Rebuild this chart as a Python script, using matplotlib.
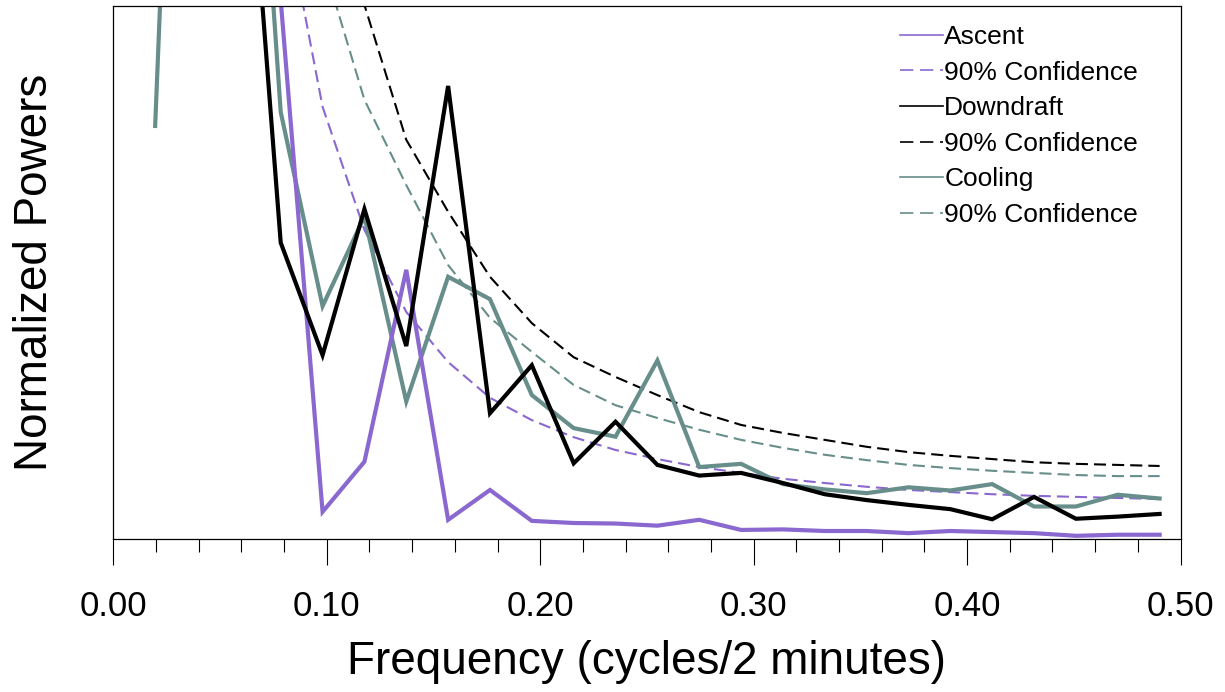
import numpy as np
import matplotlib
matplotlib.use("Agg")
import matplotlib.pyplot as plt
from matplotlib.lines import Line2D
from matplotlib.ticker import MultipleLocator, NullLocator

plt.rcParams['font.family'] = ['Liberation Sans', 'DejaVu Sans']

# spectral estimates at harmonics k/51, k = 1..25
freq = np.arange(1, 26) / 51.0

ascent = [1.90, 1.80, 1.76, 1.011, 0.051, 0.145, 0.505, 0.036, 0.092, 0.034,
          0.030, 0.029, 0.025, 0.036, 0.017, 0.018, 0.015, 0.015, 0.011, 0.015,
          0.013, 0.011, 0.006, 0.008, 0.008]
ascent_conf = [4.0, 3.0, 2.0, 1.221, 0.811, 0.580, 0.426, 0.332, 0.265, 0.223,
               0.191, 0.167, 0.150, 0.135, 0.124, 0.113, 0.105, 0.098, 0.092, 0.088,
               0.084, 0.081, 0.079, 0.077, 0.075]

downdraft = [1.90, 2.00, 1.574, 0.556, 0.345, 0.619, 0.362, 0.850, 0.236, 0.326,
             0.142, 0.220, 0.139, 0.119, 0.124, 0.105, 0.084, 0.073, 0.064, 0.056,
             0.037, 0.079, 0.038, 0.042, 0.047]
downdraft_conf = [10.0, 6.0, 4.0, 2.5, 1.48, 1.002, 0.749, 0.614, 0.492, 0.405,
                  0.341, 0.304, 0.270, 0.238, 0.214, 0.199, 0.186, 0.173, 0.163, 0.156,
                  0.150, 0.144, 0.141, 0.139, 0.137]

cooling = [0.775, 2.717, 1.940, 0.801, 0.437, 0.605, 0.258, 0.492, 0.450, 0.270,
           0.208, 0.192, 0.335, 0.135, 0.141, 0.103, 0.093, 0.086, 0.097, 0.091,
           0.103, 0.061, 0.061, 0.083, 0.076]
cooling_conf = [6.0, 4.0, 2.5, 1.6, 1.086, 0.824, 0.664, 0.514, 0.415, 0.351,
                0.289, 0.251, 0.227, 0.205, 0.186, 0.171, 0.158, 0.148, 0.139, 0.133,
                0.128, 0.124, 0.120, 0.118, 0.118]

PURPLE = "#8a68cf"
TEAL = "#678e8a"
BLACK = "black"
dash = (5.8, 2.9)

fig = plt.figure(figsize=(12.25, 6.92), dpi=100)
ax = fig.add_axes([0.0925, 0.2211, 0.8712, 0.7702])

ax.plot(freq, ascent_conf, color=PURPLE, lw=1.5, ls=(0, dash))
ax.plot(freq, cooling_conf, color=TEAL, lw=1.5, ls=(0, dash))
ax.plot(freq, downdraft_conf, color=BLACK, lw=1.5, ls=(0, dash))
ax.plot(freq, cooling, color=TEAL, lw=3, solid_joinstyle="miter")
ax.plot(freq, ascent, color=PURPLE, lw=3, solid_joinstyle="miter")
ax.plot(freq, downdraft, color=BLACK, lw=3, solid_joinstyle="miter")

ax.set_xlim(0, 0.5)
ax.set_ylim(0, 1.0)
ax.xaxis.set_major_locator(MultipleLocator(0.1))
ax.xaxis.set_minor_locator(MultipleLocator(0.02))
ax.xaxis.set_major_formatter(matplotlib.ticker.FormatStrFormatter("%.2f"))
ax.yaxis.set_major_locator(NullLocator())
ax.tick_params(axis="x", which="major", direction="out", length=19, width=0.8,
               labelsize=25, pad=18)
ax.tick_params(axis="x", which="minor", direction="out", length=9.6, width=0.8)
for s in ax.spines.values():
    s.set_linewidth(0.9)

ax.set_xlabel("Frequency (cycles/2 minutes)", fontsize=33)
ax.set_ylabel("Normalized Powers", fontsize=33)
ax.xaxis.set_label_coords(0.5, -0.19)
ax.yaxis.set_label_coords(-0.053, 0.5)

handles = [Line2D([], [], color=PURPLE, lw=1.2),
           Line2D([], [], color=PURPLE, lw=1.2, ls=(0, (8, 4))),
           Line2D([], [], color=BLACK, lw=1.2),
           Line2D([], [], color=BLACK, lw=1.2, ls=(0, (8, 4))),
           Line2D([], [], color=TEAL, lw=1.2),
           Line2D([], [], color=TEAL, lw=1.2, ls=(0, (8, 4)))]
labels = ["Ascent", "90% Confidence", "Downdraft", "90% Confidence",
          "Cooling", "90% Confidence"]
fig.legend(handles, labels, loc="upper left", bbox_to_anchor=(900 / 1225, 1 - 25 / 692),
           frameon=False, fontsize=19, handlelength=1.63, handletextpad=0.05,
           labelspacing=0.44, borderpad=0, borderaxespad=0)

fig.savefig("out.png", dpi=100)
